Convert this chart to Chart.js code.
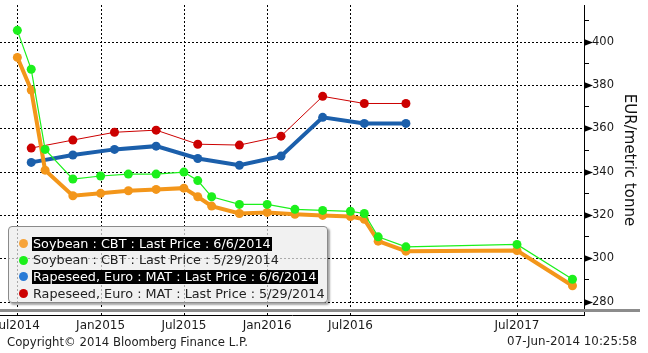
<!DOCTYPE html>
<html>
<head>
<meta charset="utf-8">
<script src="https://cdn.jsdelivr.net/npm/chart.js@4.4.1/dist/chart.umd.min.js"></script>
<style>
  body { margin: 0; background: #fff; overflow: hidden; }
  #wrap { position: relative; width: 648px; height: 353px; }
  #legend {
    position: absolute; left: 8px; top: 226px; width: 320px; height: 77px;
    box-sizing: border-box; padding-top: 8px;
    background: rgba(236, 236, 236, 0.72);
    border: 1px solid #8a8a8a; border-radius: 4px;
    box-shadow: 2px 2px 2px rgba(0, 0, 0, 0.35);
    font: 12.8px "DejaVu Sans", sans-serif; color: #222;
  }
  .row { height: 16.7px; line-height: 16.7px; white-space: nowrap; position: relative; }
  .dot { position: absolute; left: 10px; top: 3.9px; width: 9px; height: 9px; border-radius: 50%; }
  .txt { position: absolute; left: 23px; top: 1.5px; line-height: 14px; padding: 0 1px; }
  .txt.sel { background: #000; color: #fff; }
</style>
</head>
<body>
<div id="wrap">
  <canvas id="chart" width="648" height="353"></canvas>
  <div id="legend"></div>
</div>
<script>
// contract months and prices (EUR/metric tonne)
const soyMonths = ['2014-07', '2014-08', '2014-09', '2014-11', '2015-01', '2015-03', '2015-05', '2015-07', '2015-08', '2015-09',
  '2015-11', '2016-01', '2016-03', '2016-05', '2016-07', '2016-08', '2016-09', '2016-11', '2017-07', '2017-11'];
const soyJun6 = [392.8, 377.7, 340.7, 328.9, 330.0, 331.2, 331.8, 332.4, 328.4, 324.1,
  320.7, 321.2, 320.3, 319.8, 319.3, 318.0, 307.9, 303.3, 303.6, 287.3];
const soyMay29 = [405.3, 387.3, 350.3, 336.6, 338.0, 338.9, 338.9, 339.8, 335.9, 328.4,
  324.9, 324.9, 322.6, 322.1, 321.7, 320.7, 309.9, 305.3, 306.4, 290.3];

const rapeMonths = ['2014-08', '2014-11', '2015-02', '2015-05', '2015-08', '2015-11', '2016-02', '2016-05', '2016-08', '2016-11'];
const rapeJun6 = [344.3, 347.7, 350.3, 351.8, 346.1, 343.0, 347.2, 365.1, 362.3, 362.3];
const rapeMay29 = [350.9, 354.6, 358.2, 359.2, 352.7, 352.3, 356.4, 374.8, 371.5, 371.5];

// x axis labels (no Jan2017 on the original)
const tickMonths = ['2014-07', '2015-01', '2015-07', '2016-01', '2016-07', '2017-07'];
const tickLabels = ['Jul2014', 'Jan2015', 'Jul2015', 'Jan2016', 'Jul2016', 'Jul2017'];
const yTicks = [280, 290, 300, 310, 320, 330, 340, 350, 360, 370, 380, 390, 400, 410];

// months counted from Jan 2014
function monthNum(s) {
  const [y, m] = s.split('-').map(Number);
  return (y - 2014) * 12 + (m - 1);
}
function toPoints(months, values) {
  return months.map((m, i) => ({ x: monthNum(m), y: values[i] }));
}

function series(label, months, values, color, width, order, selected) {
  return {
    label: label,
    data: toPoints(months, values),
    borderColor: color,
    backgroundColor: color,
    borderWidth: width,
    pointRadius: 4.5,
    pointHoverRadius: 4.5,
    pointBorderWidth: 0,
    pointBackgroundColor: color,
    tension: 0,
    order: order,
    selected: selected,
    dotColor: color,
  };
}

const datasets = [
  series('Soybean : CBT : Last Price : 6/6/2014', soyMonths, soyJun6, '#f3961a', 4, 1, true),
  series('Soybean : CBT : Last Price : 5/29/2014', soyMonths, soyMay29, '#1cf01c', 1.2, 0, false),
  series('Rapeseed, Euro : MAT : Last Price : 6/6/2014', rapeMonths, rapeJun6, '#1b5fab', 4, 3, true),
  series('Rapeseed, Euro : MAT : Last Price : 5/29/2014', rapeMonths, rapeMay29, '#cc0000', 1, 2, false),
];
datasets[0].dotColor = '#f7a43a';
datasets[2].dotColor = '#2a7bd6';

// fit a footer string into the width it takes on the original
function fitText(ctx, text, width) {
  ctx.font = '12px "DejaVu Sans"';
  const size = 12 * width / ctx.measureText(text).width;
  ctx.font = size.toFixed(2) + 'px "DejaVu Sans"';
}

// dotted grid, gray band, arrow ticks and footer
const extras = {
  id: 'extras',
  beforeDatasetsDraw(chart) {
    const { ctx, chartArea } = chart;
    const { x, y } = chart.scales;
    ctx.save();
    ctx.strokeStyle = '#000';
    ctx.lineWidth = 1;
    ctx.setLineDash([2, 2]);
    ctx.beginPath();
    x.ticks.forEach(t => {
      const px = Math.round(x.getPixelForValue(t.value)) + 0.5;
      ctx.moveTo(px, chartArea.top);
      ctx.lineTo(px, chartArea.bottom);
    });
    y.ticks.forEach(t => {
      if (t.value % 20 !== 0) return;
      const py = Math.round(y.getPixelForValue(t.value)) + 0.5;
      ctx.moveTo(chartArea.left, py);
      ctx.lineTo(chartArea.right, py);
    });
    ctx.stroke();
    ctx.setLineDash([]);
    ctx.fillStyle = '#8c8c8c';
    ctx.fillRect(0, chartArea.bottom - 6, 640, 3);
    ctx.restore();
  },
  afterDraw(chart) {
    const { ctx, chartArea } = chart;
    const y = chart.scales.y;
    ctx.save();
    ctx.fillStyle = '#000';
    y.ticks.forEach(t => {
      if (t.value % 20 !== 0) return;
      const py = Math.round(y.getPixelForValue(t.value)) + 0.5;
      ctx.beginPath();
      ctx.moveTo(chartArea.right, py - 3.5);
      ctx.lineTo(chartArea.right + 9, py);
      ctx.lineTo(chartArea.right, py + 3.5);
      ctx.closePath();
      ctx.fill();
    });
    ctx.fillStyle = '#222';
    ctx.textBaseline = 'middle';
    ctx.textAlign = 'left';
    const copy = 'Copyright\u00a9 2014 Bloomberg Finance L.P.';
    fitText(ctx, copy, 241);
    ctx.fillText(copy, 7, 343);
    ctx.textAlign = 'right';
    const stamp = '07-Jun-2014 10:25:58';
    fitText(ctx, stamp, 130);
    ctx.fillText(stamp, 637, 342);
    ctx.restore();
  },
};

Chart.defaults.font.family = '"DejaVu Sans", sans-serif';
Chart.defaults.color = '#1a1a1a';

new Chart(document.getElementById('chart'), {
  type: 'line',
  data: { datasets: datasets },
  options: {
    responsive: false,
    animation: false,
    layout: { autoPadding: false, padding: { top: 5, left: 0, right: 0, bottom: 0 } },
    plugins: { legend: { display: false }, tooltip: { enabled: false } },
    scales: {
      x: {
        type: 'linear',
        min: 4.75,
        max: 46.83,
        afterBuildTicks: s => { s.ticks = tickMonths.map(m => ({ value: monthNum(m) })); },
        afterFit: s => { s.height = 38; s.paddingLeft = 0; s.paddingRight = 0; },
        ticks: {
          maxRotation: 0,
          autoSkip: false,
          padding: 4,
          font: { size: 12 },
          callback: (v) => tickLabels[tickMonths.findIndex(m => monthNum(m) === v)],
        },
        grid: { drawOnChartArea: false, drawTicks: false },
        border: { color: '#000', width: 1 },
      },
      y: {
        position: 'right',
        min: 273.8,
        max: 417,
        afterBuildTicks: s => { s.ticks = yTicks.map(v => ({ value: v })); },
        afterFit: s => { s.width = 64; s.paddingTop = 0; s.paddingBottom = 0; },
        ticks: {
          padding: 3,
          font: { size: 11.5 },
          callback: v => (v % 20 === 0 ? v : ''),
        },
        grid: {
          drawOnChartArea: false,
          tickColor: '#000',
          tickLength: 5,
          lineWidth: 1,
        },
        border: { color: '#000', width: 1 },
        title: {
          display: true,
          text: 'EUR/metric tonne',
          color: '#111',
          font: { size: 15 },
          padding: { top: 10, bottom: 0 },
        },
      },
    },
  },
  plugins: [extras],
});

// legend box drawn over the plot
const legend = document.getElementById('legend');
datasets.forEach(d => {
  const row = document.createElement('div');
  row.className = 'row';
  row.innerHTML = '<span class="dot" style="background:' + d.dotColor + '"></span>' +
    '<span class="txt' + (d.selected ? ' sel' : '') + '">' + d.label + '</span>';
  legend.appendChild(row);
});
</script>
</body>
</html>
